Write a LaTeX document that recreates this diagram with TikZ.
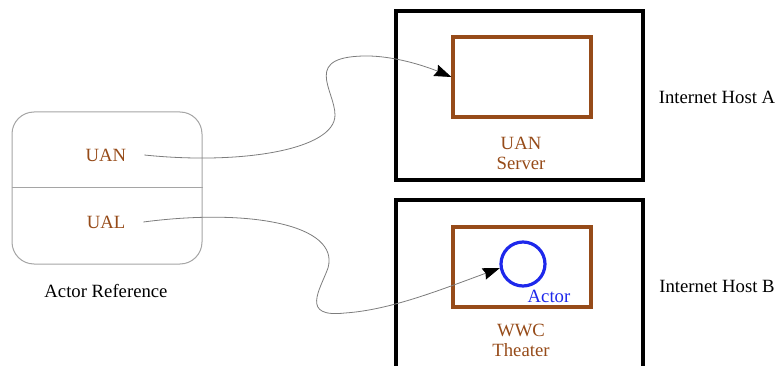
\documentclass[tikz,border=0pt]{standalone}
\usepackage{fontspec}
\setmainfont{Liberation Serif}
\usetikzlibrary{arrows.meta}
\definecolor{rust}{RGB}{150,75,25}
\definecolor{actorblue}{RGB}{30,40,235}
\definecolor{wire}{RGB}{125,125,125}
\definecolor{frame}{RGB}{165,165,165}

\begin{document}
\begin{tikzpicture}
[
x=1pt,y=-1pt,
every node/.style={font=\fontsize{18.7}{20}\selectfont},
host/.style={draw=black,line width=3.2pt,minimum width=247pt,minimum height=169pt,inner sep=0pt},
place/.style={draw=rust,line width=3.2pt,minimum width=138pt,minimum height=80pt,inner sep=0pt},
field/.style={text=rust,inner xsep=18pt},
caption/.style={text=rust,align=center},
ref/.style={wire,line width=0.8pt,-{Stealth[black,inset=2pt,length=17pt,width=12pt]}},
]
\clip (0,0) rectangle (779,366);

%Place the nodes
\node[draw=frame,line width=1pt,rounded corners=22pt,minimum width=190pt,minimum height=152pt] (actorref) at (107,188) {};
\draw[frame,line width=1pt] (actorref.west) -- (actorref.east);
\node[field] (uan) at (106,155) {UAN};
\node[field] (ual) at (106,222) {UAL};
\node (reflabel) at (106,291) {Actor Reference};

\node[host] (hosta) at (519.5,95.5) {};
\node[place] (server) at (522,77) {};
\node[caption] (serverlabel) at (521,153) {UAN\\Server};
\node (hostalabel) at (717,97) {Internet Host A};

\node[host,minimum height=200pt] (hostb) at (519.5,300) {};
\node[place] (theater) at (522,267) {};
\node[draw=actorblue,line width=3.2pt,circle,minimum size=44pt,inner sep=0pt] (actor) at (523,264) {};
\node[text=actorblue] (actorlabel) at (549,296) {Actor};
\node[caption] (theaterlabel) at (521,340) {WWC\\Theater};
\node (hostblabel) at (717,286) {Internet Host B};

%Draw the connections
\draw[ref] (uan.east) .. controls (240,165) and (335,150) .. (335,115)
  .. controls (335,90) and (300,55) .. (370,56)
  .. controls (400,57) and (430,68) .. (server.west);
\draw[ref] (ual.east) .. controls (250,208) and (340,225) .. (328,268)
  .. controls (320,290) and (300,318) .. (345,313)
  .. controls (390,310) and (440,290) .. (actor.190);
\end{tikzpicture}
\end{document}
